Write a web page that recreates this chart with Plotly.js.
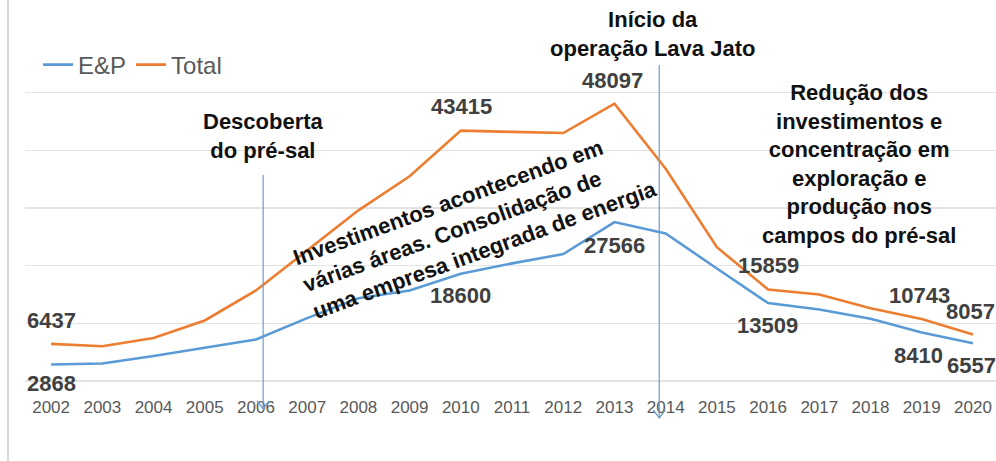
<!DOCTYPE html>
<html>
<head>
<meta charset="utf-8">
<script src="https://cdn.plot.ly/plotly-3.0.1.min.js"></script>
<style>
html,body{margin:0;padding:0;background:#fff;}
#chart{width:996px;height:461px;}
</style>
</head>
<body>
<div id="chart"></div>
<script>
// ---- data ----
const years = [2002,2003,2004,2005,2006,2007,2008,2009,2010,2011,2012,2013,2014,2015,2016,2017,2018,2019,2020];
const ep    = [2868,3030,4350,5800,7190,10900,14350,15700,18600,20400,22000,27566,25600,19500,13509,12400,10800,8410,6557];
const total = [6437,6030,7470,10500,15700,22600,29600,35500,43415,43200,43000,48097,36800,23200,15859,15000,12600,10743,8057];
const seriesNames = ['E&P','Total'];

// labelled points: [series, year, value, xshift, yshift]
const labelPoints = [
  ['Total',2002,6437,0,23],
  ['E&P',2002,2868,0,-19],
  ['Total',2010,43415,1,24],
  ['Total',2013,48097,-2,23],
  ['E&P',2010,18600,0,-22],
  ['E&P',2013,27566,0,-23],
  ['Total',2016,15859,0,24],
  ['E&P',2016,13509,-1,-22],
  ['Total',2019,10743,-2,24],
  ['Total',2020,8057,-2,23],
  ['E&P',2019,8410,-3,-23],
  ['E&P',2020,6557,-1,-22]
];

// events (year positions of the marker lines)
const eventYears = [2006.14, 2013.875];
const eventTexts = ['Descoberta<br>do pré-sal', 'Início da<br>operação Lava Jato'];
const periodTexts = [
  'Investimentos acontecendo em<br>várias áreas. Consolidação de<br>uma empresa integrada de energia',
  'Redução dos<br>investimentos e<br>concentração em<br>exploração e<br>produção nos<br>campos do pré-sal'
];

const W = 996, H = 461;
const mt = 35, mb = 80, ml = 25, mr = 0;
const plotH = H - mt - mb;
const plotW = W - ml - mr;
const py = p => (H - mb - p) / plotH; // pixel y -> paper y
const px = p => (p - ml) / plotW;     // pixel x -> paper x

const blue = '#5b9bd5', orange = '#ed7d31';
const lineCol = '#6f9cc6';

const traces = [
  {x: years, y: ep, name: seriesNames[0], type: 'scatter', mode: 'lines',
   line: {color: blue, width: 2.6}, hoverinfo: 'skip'},
  {x: years, y: total, name: seriesNames[1], type: 'scatter', mode: 'lines',
   line: {color: orange, width: 2.6}, hoverinfo: 'skip'}
];

const annotations = labelPoints.map(p => ({
  x: p[1], y: p[2], xref: 'x', yref: 'y', text: String(p[2]), showarrow: false,
  xshift: p[3], yshift: p[4], xanchor: 'center', yanchor: 'middle',
  font: {family: 'Liberation Sans, Arial, sans-serif', size: 22, color: '#404040', weight: 700}
}));

const boldFont = {family: 'Liberation Sans, Arial, sans-serif', size: 22, color: '#111', weight: 700};

annotations.push({
  x: px(263), xref: 'paper', y: py(135.5), yref: 'paper', text: '<b>' + eventTexts[0] + '</b>',
  showarrow: false, xanchor: 'center', yanchor: 'middle', font: boldFont, align: 'center'
});
annotations.push({
  x: px(652), xref: 'paper', y: py(34), yref: 'paper',
  text: '<b>' + eventTexts[1] + '</b>', showarrow: false, xanchor: 'center', yanchor: 'middle',
  font: boldFont, align: 'center'
});
annotations.push({
  x: px(475), xref: 'paper', y: py(223), yref: 'paper',
  text: '<b>' + periodTexts[0] + '</b>', showarrow: false, xanchor: 'center', yanchor: 'middle',
  textangle: -20, font: boldFont, align: 'left'
});
annotations.push({
  x: px(859), xref: 'paper', y: py(164), yref: 'paper',
  text: '<b>' + periodTexts[1] + '</b>', showarrow: false, xanchor: 'center', yanchor: 'middle',
  font: boldFont, align: 'center'
});

// event marker lines with open arrow heads
const eventTop = [175, 65];
const eventTip = [409, 418];
const shapes = [];
eventYears.forEach((yr, i) => {
  shapes.push({type: 'line', xref: 'x', yref: 'paper', x0: yr, x1: yr,
    y0: py(eventTop[i]), y1: py(eventTip[i]), line: {color: lineCol, width: 1.2}});
  const dx = 6 / 51.2;
  shapes.push({type: 'path', xref: 'x', yref: 'paper',
    path: `M ${yr-dx} ${py(eventTip[i]-8)} L ${yr} ${py(eventTip[i])} L ${yr+dx} ${py(eventTip[i]-8)}`,
    line: {color: lineCol, width: 1.3}});
});
// chart frame left border
shapes.push({type: 'line', xref: 'paper', yref: 'paper', x0: px(8), x1: px(8),
  y0: py(0), y1: py(461), line: {color: '#d9d9d9', width: 2}});

const layout = {
  width: W, height: H,
  margin: {l: ml, r: mr, t: mt, b: mb},
  paper_bgcolor: '#fff', plot_bgcolor: '#fff',
  showlegend: true,
  legend: {orientation: 'h', x: px(38), xanchor: 'left', y: py(65), yanchor: 'middle',
    font: {family: 'Liberation Sans, Arial, sans-serif', size: 24, color: '#595959'},
    itemwidth: 30, bgcolor: 'rgba(0,0,0,0)', tracegroupgap: 0},
  xaxis: {range: [2001.49, 2020.45], tickmode: 'array', tickvals: years, ticktext: years.map(String),
    showgrid: false, zeroline: false, showline: false, ticks: '',
    tickfont: {family: 'Liberation Sans, Arial, sans-serif', size: 17, color: '#595959'},
    ticklabelstandoff: 14, fixedrange: true},
  yaxis: {range: [0, 60000], dtick: 10000, showticklabels: false, showgrid: true,
    gridcolor: '#e2e2e2', gridwidth: 1.5, zeroline: true, zerolinecolor: '#e2e2e2', zerolinewidth: 1.5,
    showline: false, ticks: '', fixedrange: true},
  annotations: annotations,
  shapes: shapes
};

Plotly.newPlot('chart', traces, layout, {displayModeBar: false, staticPlot: true});
</script>
</body>
</html>
